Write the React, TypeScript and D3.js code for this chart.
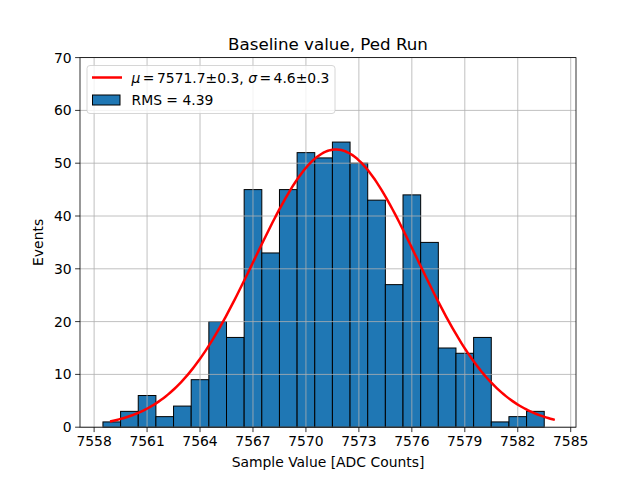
import React from "react";
import * as d3 from "d3";

const binCenters = [7559, 7560, 7561, 7562, 7563, 7564, 7565, 7566, 7567, 7568, 7569, 7570, 7571, 7572, 7573, 7574, 7575, 7576, 7577, 7578, 7579, 7580, 7581, 7582, 7583];
const counts = [1, 3, 6, 2, 4, 9, 20, 17, 45, 33, 45, 52, 51, 54, 50, 43, 27, 44, 35, 15, 14, 17, 1, 2, 3];
const binWidth = 1;
const xTicks = [7558, 7561, 7564, 7567, 7570, 7573, 7576, 7579, 7582, 7585];
const yTicks = [0, 10, 20, 30, 40, 50, 60, 70];
const fitMu = 7571.7;
const fitSigma = 4.6;
const fitAmp = 52.6;
const fitRange = [7558.9, 7584.1];
const title = "Baseline value, Ped Run";
const xLabel = "Sample Value [ADC Counts]";
const yLabel = "Events";
const rmsLabel = "RMS = 4.39";

const W = 640, H = 480;
const L = 80, R = 576, T = 57.6, B = 427.2;
const FONT = "DejaVu Sans, sans-serif";

export default function App() {
  const x = d3.scaleLinear().domain([7557.2, 7585.3]).range([L, R]);
  const y = d3.scaleLinear().domain([0, 70]).range([B, T]);

  const curvePts: [number, number][] = d3.range(0, 201).map((i) => {
    const v = fitRange[0] + (fitRange[1] - fitRange[0]) * (i / 200);
    const z = (v - fitMu) / fitSigma;
    return [v, fitAmp * Math.exp(-0.5 * z * z)];
  });
  const line = d3.line<[number, number]>().x((d) => x(d[0])).y((d) => y(d[1]));

  return (
    <svg width={W} height={H} style={{ position: "absolute", left: 0, top: 0, background: "#fff" }} fontFamily={FONT}>
      <rect x={0} y={0} width={W} height={H} fill="#fff" />
      {binCenters.map((c, i) => (
        <rect
          key={i}
          x={x(c - binWidth / 2)}
          y={y(counts[i])}
          width={x(c + binWidth / 2) - x(c - binWidth / 2)}
          height={y(0) - y(counts[i])}
          fill="#1f77b4"
          stroke="#000"
          strokeWidth={1}
        />
      ))}
      {xTicks.map((t) => (
        <line key={"gx" + t} x1={x(t)} x2={x(t)} y1={T} y2={B} stroke="#b0b0b0" strokeWidth={0.8} />
      ))}
      {yTicks.map((t) => (
        <line key={"gy" + t} x1={L} x2={R} y1={y(t)} y2={y(t)} stroke="#b0b0b0" strokeWidth={0.8} />
      ))}
      <path d={line(curvePts) || ""} fill="none" stroke="#ff0000" strokeWidth={2.5} />
      <rect x={L} y={T} width={R - L} height={B - T} fill="none" stroke="#000" strokeWidth={0.8} />
      {xTicks.map((t) => (
        <g key={"xt" + t}>
          <line x1={x(t)} x2={x(t)} y1={B} y2={B + 4.9} stroke="#000" strokeWidth={0.8} />
          <text x={x(t)} y={B + 19} fontSize={13.9} textAnchor="middle" fill="#000">{t}</text>
        </g>
      ))}
      {yTicks.map((t) => (
        <g key={"yt" + t}>
          <line x1={L - 4.9} x2={L} y1={y(t)} y2={y(t)} stroke="#000" strokeWidth={0.8} />
          <text x={L - 8.4} y={y(t) + 5} fontSize={13.9} textAnchor="end" fill="#000">{t}</text>
        </g>
      ))}
      <text x={(L + R) / 2} y={49.5} fontSize={16.7} textAnchor="middle" fill="#000">{title}</text>
      <text x={(L + R) / 2} y={467} fontSize={13.9} textAnchor="middle" fill="#000">{xLabel}</text>
      <text transform={`translate(43,${(T + B) / 2}) rotate(-90)`} fontSize={13.9} textAnchor="middle" fill="#000">{yLabel}</text>
      <rect x={87} y={65.5} width={248} height={48} rx={3} fill="#fff" fillOpacity={0.8} stroke="#cccccc" strokeWidth={0.8} />
      <line x1={92} x2={122} y1={77.5} y2={77.5} stroke="#ff0000" strokeWidth={2.5} />
      <text x={131.5} y={82.5} fontSize={13.9} fill="#000" xmlSpace="preserve">
        <tspan fontStyle="italic">μ</tspan>
        <tspan dx={2.5}>=</tspan>
        <tspan dx={2.5}>7571.7±0.3, </tspan>
        <tspan fontStyle="italic">σ</tspan>
        <tspan dx={2.5}>=</tspan>
        <tspan dx={2.5}>4.6±0.3</tspan>
      </text>
      <rect x={92.5} y={95} width={27.5} height={10} fill="#1f77b4" stroke="#000" strokeWidth={1} />
      <text x={131.5} y={105} fontSize={13.9} fill="#000">{rmsLabel}</text>
    </svg>
  );
}
